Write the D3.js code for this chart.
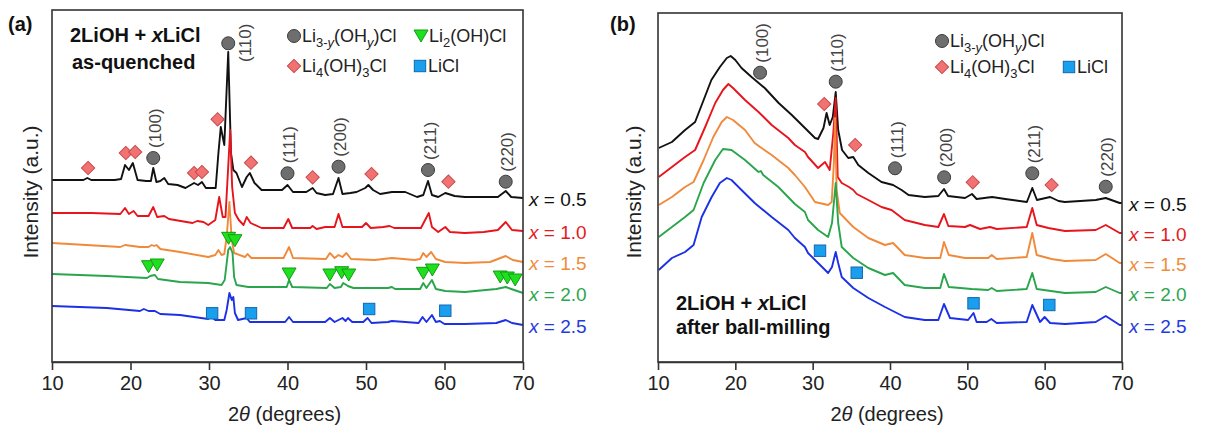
<!DOCTYPE html>
<html><head><meta charset="utf-8">
<script src="https://cdn.jsdelivr.net/npm/d3@7/dist/d3.min.js"></script>
<style>
body{margin:0;background:#fff}
svg{display:block}
text{font-family:"Liberation Sans",Arial,Helvetica,sans-serif}
</style>
</head><body>
<svg id="chart" width="1206" height="426"></svg>
<script>
// ---------- DATA ----------
const thetaTicks = [10, 20, 30, 40, 50, 60, 70];
const seriesNames = ["0.5", "1.0", "1.5", "2.0", "2.5"];

// Panel (a): as-quenched, [2theta, intensity (a.u., offset stacked)]
const aX05 = [[10,182],[12,182],[14,182],[14.5,184],[15,182],[18,182],[18.8,183],[19.3,197],[19.8,192],[20.3,199],[20.9,182],[22,181],[22.6,181],[22.9,194],[23.3,180],[23.8,181],[24.3,184],[24.8,178],[26,177],[27,174],[28.1,179],[28.6,177],[29.1,180],[29.6,174],[30.85,174],[31.2,209],[31.5,235],[31.95,217],[32.45,310],[32.8,209],[33.1,192],[33.5,189],[34.2,175],[34.8,185],[35.2,189],[35.8,179],[36.7,172],[39.3,172],[40.0,177],[40.7,170],[42.4,170],[43.2,174],[43.7,169],[44.8,167],[45.8,168],[46.5,184],[47.0,168],[48.0,169],[48.8,170],[49.9,174],[50.3,177],[50.9,172],[51.8,168],[53.3,170],[55.0,170],[56.5,165],[57.3,167],[57.9,181],[58.4,167],[59.2,165],[60.1,169],[61.3,166],[62.6,165],[65.0,165],[66.8,165],[67.8,171],[68.5,165],[70,164]];
const aX10 = [[10,149],[15,149],[18.7,148],[19.3,154],[19.8,148],[20.4,151],[20.9,146],[22.3,146],[22.9,155],[23.4,145],[24.3,146],[24.9,143],[27.9,139],[28.5,141],[29.3,140],[29.9,137],[30.8,142],[31.3,165],[31.75,145],[32.1,145],[32.7,232],[32.95,175],[33.3,149],[33.8,142],[34.4,137],[34.8,145],[35.3,139],[36.7,134],[39.5,134],[40.1,143],[40.6,134],[42.9,134],[43.2,136],[43.7,133],[44.8,135],[46.0,135],[46.5,148],[47.0,135],[49.5,135],[50.0,139],[50.6,134],[52.2,135],[53.0,136],[53.6,134],[57.0,134],[58.0,149],[58.4,135],[59.2,130],[60.1,135],[60.7,130],[62.6,129],[65.0,130],[66.8,132],[67.8,140],[68.6,132],[70,131]];
const aX15 = [[10,119],[18.7,115],[19.3,117],[21.2,115],[22.3,115],[22.7,117],[23.0,116],[23.3,117],[23.8,113],[26.3,110],[29.9,105],[30.8,107],[31.2,112],[31.6,107],[31.95,108],[32.25,125],[32.6,160],[32.9,122],[33.2,109],[34.6,105],[34.9,108],[35.4,104],[39.5,104],[40.2,115],[40.7,104],[44.9,103],[45.4,109],[46.0,104],[46.5,107],[47.0,105],[47.5,109],[48.1,103],[51.1,102],[53.3,104],[56.2,102],[56.9,103],[57.3,109],[57.7,105],[58.3,110],[58.9,103],[60.1,100],[62.6,99],[65.8,100],[67.8,106],[68.7,102],[70,100]];
const aX20 = [[10,88],[17.0,86],[22.1,84],[22.5,86],[23.1,87],[23.5,83],[26.3,80],[29.9,79],[31.6,77],[32.0,82],[32.45,112],[32.7,115],[33.0,109],[33.2,85],[33.5,77],[35.0,75],[39.9,75],[40.2,82],[40.6,75],[45.0,74],[45.4,78],[46.0,74],[46.8,75],[47.1,79],[47.7,76],[48.4,74],[52.8,74],[53.3,75],[53.7,73],[56.9,73],[57.3,79],[57.7,74],[58.4,82],[58.9,73],[60.1,71],[62.6,70],[66.6,73],[67.8,75],[68.5,73],[70,69]];
const aX25 = [[10,56],[17.0,54],[21.2,51],[21.7,53],[22.3,51],[23.1,51],[23.8,48],[26.3,47],[29.9,43],[30.3,45],[30.8,42],[31.95,42],[32.25,52],[32.6,69],[32.9,62],[33.1,65],[33.3,49],[33.7,42],[34.8,44],[35.2,40],[39.7,40],[40.2,45],[40.7,40],[44.8,40],[45.4,44],[46.0,40],[47.0,44],[47.4,41],[47.7,44],[48.25,40],[49.65,40],[50.2,44],[50.7,39],[52.8,40],[53.3,41],[56.7,39],[57.2,45],[57.7,40],[58.4,47],[58.9,40],[59.4,41],[60.0,38],[62.6,38],[66.6,39],[67.8,42],[68.6,39],[70,37]];

// Panel (b): after ball-milling
const bX05 = [[10.1,214],[11.8,220],[13.5,232],[14.8,240],[15.9,262],[16.9,282],[18.0,295],[18.9,304],[19.4,306],[20.0,302],[20.8,294],[22.1,285],[23.8,274],[25.6,259],[27.3,247],[29.0,234],[30.3,224],[30.7,223],[31.4,234],[31.8,249],[32.2,237],[32.6,245],[32.98,270],[33.3,232],[33.8,212],[34.6,204],[35.25,205],[35.9,197],[37.2,189],[38.9,180],[40.4,177],[41.5,172],[42.4,167],[44.5,165],[46.25,166],[46.98,173],[47.5,166],[49.7,164],[50.6,168],[51.2,163],[53.2,165],[54.9,163],[57.7,160],[58.4,174],[59.0,162],[60.7,165],[61.8,161],[62.6,160],[66.6,162],[67.9,164],[69.7,159],[70,159]];
const bX10 = [[10.1,185],[11.8,195],[13.5,205],[14.8,212],[16.1,235],[17.4,259],[18.4,272],[19.1,278],[19.7,274],[21.25,262],[23.0,250],[24.7,237],[26.85,224],[27.7,217],[29.0,210],[29.4,205],[30.7,194],[31.6,200],[32.2,192],[32.67,229],[32.98,264],[33.24,185],[33.76,179],[34.7,175],[35.25,172],[35.7,168],[37.2,162],[38.9,155],[40.2,152],[41.9,142],[44.5,137],[46.25,135],[46.98,148],[47.54,136],[49.7,135],[50.35,137],[51.64,133],[52.93,135],[53.8,133],[57.68,135],[58.4,154],[58.97,137],[60.47,134],[62.63,131],[66.6,132],[67.9,137],[69.7,129],[70,129]];
const bX15 = [[10.1,157],[11.8,165],[13.5,175],[14.6,180],[15.9,202],[17.15,225],[18.24,240],[18.9,245],[19.7,242],[21.25,232],[22.5,219],[23.2,215],[24.7,207],[26.85,194],[27.7,187],[29.0,175],[30.3,160],[32.0,157],[32.46,160],[32.75,200],[32.9,244],[33.1,172],[33.5,149],[35.25,135],[37.2,124],[39.35,117],[40.4,119],[41.9,107],[44.5,104],[46.5,104],[46.98,120],[47.6,107],[49.7,104],[52.7,104],[53.15,107],[53.8,103],[57.68,105],[58.4,129],[58.97,107],[60.9,103],[62.63,101],[66.6,102],[67.9,108],[69.7,99],[70,99]];
const bX20 = [[10.1,125],[11.8,135],[13.5,145],[14.6,152],[15.9,179],[17.4,202],[18.4,213],[19.5,212],[21.25,202],[23.0,190],[23.3,191],[23.6,187],[25.56,175],[27.7,158],[29.0,150],[29.4,142],[30.7,132],[32.0,125],[32.5,139],[32.98,179],[33.3,139],[33.76,115],[35.25,104],[37.2,94],[39.35,87],[40.4,89],[41.9,77],[44.5,74],[46.5,74],[46.98,88],[47.6,75],[50.57,73],[52.7,72],[53.15,74],[53.8,71],[57.68,73],[58.4,89],[58.97,73],[62.63,69],[66.6,70],[67.9,75],[69.7,69],[70,69]];
const bX25 = [[10.1,92],[11.8,104],[13.5,110],[14.6,117],[15.65,145],[16.94,165],[18.0,179],[18.9,184],[19.5,182],[20.8,172],[22.5,159],[24.7,145],[26.85,132],[27.7,124],[29.0,115],[29.4,109],[30.7,99],[32.0,89],[32.5,95],[32.98,110],[33.3,99],[33.76,85],[35.25,74],[37.2,64],[39.35,55],[41.9,45],[44.5,42],[46.25,42],[46.98,58],[47.76,44],[50.1,42],[50.8,49],[51.2,40],[52.5,40],[53.1,43],[53.8,39],[57.68,40],[58.4,57],[59.4,40],[60.0,45],[60.7,39],[62.63,38],[66.6,40],[67.9,46],[69.7,37],[70,37]];

// Phase markers [2theta, intensity, label]
const aCircles = [[22.9,204,"(100)"],[32.45,318.7,"(110)"],[40.0,188.7,"(111)"],[46.5,195.3,"(200)"],[57.9,192,"(211)"],[67.8,180.3,"(220)"]];
const aDiamonds = [[14.6,194],[19.4,209],[20.6,210],[28.1,189],[29.1,190],[31.1,242.7],[35.35,199.3],[43.2,184.7],[50.7,188],[60.5,180.3]];
const aTriangles = [[22.3,95.3],[23.4,97],[32.5,123.7],[33.3,121.3],[40.2,88],[45.4,87],[46.9,89.3],[47.8,87],[57.3,88.7],[58.45,92],[67.1,85],[68.0,84],[69.0,82]];
const aSquares = [[30.4,48.7],[35.35,48.7],[50.4,53],[60.1,51.3]];

const bCircles = [[23.2,289.3,"(100)"],[32.98,280.3,"(110)"],[40.65,193.7,"(111)"],[47.0,184.7,"(200)"],[58.4,188.7,"(211)"],[67.9,175.3,"(220)"]];
const bDiamonds = [[31.5,258],[35.5,217],[50.7,179.7],[60.9,177]];
const bSquares = [[30.95,111.3],[35.7,89.3],[50.8,58.7],[60.6,57]];

// ---------- STYLE ----------
const traceColors = ["#111111", "#e8141c", "#f08a3a", "#2aa54c", "#1c30e6"];
const labelColors = ["#111111", "#e41a1c", "#f08c3a", "#2ea64f", "#1f3be0"];
const mk = {
  circle: {fill: "#6e6e6e", stroke: "#3c3c3c"},
  diamond: {fill: "#f07272", stroke: "#c94a4a"},
  triangle: {fill: "#1ee01e", stroke: "#139a13"},
  square: {fill: "#1a9fef", stroke: "#1068b0"}
};

const svg = d3.select("#chart");

function richText(g, x, y, parts, size, opts = {}) {
  const t = g.append("text").attr("x", x).attr("y", y)
    .attr("font-size", size).attr("fill", opts.fill || "#111")
    .attr("font-weight", opts.bold ? "bold" : null);
  let shifted = 0;
  parts.forEach(([s, kind]) => {
    const sp = t.append("tspan").text(s);
    const isSub = kind === "s" || kind === "si";
    const target = isSub ? size * 0.3 : 0;
    if (target !== shifted) { sp.attr("dy", target - shifted); shifted = target; }
    if (isSub) sp.attr("font-size", size * 0.72);
    if (kind === "i" || kind === "si") sp.attr("font-style", "italic");
  });
  return t;
}

function drawMarker(g, type, cx, cy) {
  const s = mk[type];
  if (type === "circle") {
    g.append("circle").attr("cx", cx).attr("cy", cy).attr("r", 6.5)
      .attr("fill", s.fill).attr("stroke", s.stroke).attr("stroke-width", 1);
  } else if (type === "diamond") {
    const path = d3.symbol().type(d3.symbolSquare).size(88)();
    g.append("path").attr("d", path).attr("transform", `translate(${cx},${cy}) rotate(45)`)
      .attr("fill", s.fill).attr("stroke", s.stroke).attr("stroke-width", 1);
  } else if (type === "triangle") {
    const w = 7, h = 12;
    g.append("path").attr("d", `M${-w},${-h/2}L${w},${-h/2}L0,${h/2}Z`)
      .attr("transform", `translate(${cx},${cy})`)
      .attr("fill", s.fill).attr("stroke", s.stroke).attr("stroke-width", 1).attr("stroke-linejoin", "round");
  } else if (type === "square") {
    g.append("rect").attr("x", cx - 5.7).attr("y", cy - 5.7).attr("width", 11.4).attr("height", 11.4)
      .attr("fill", s.fill).attr("stroke", s.stroke).attr("stroke-width", 1);
  }
}

const panels = [
  {tag: "(a)", tagX: 8, x0: 52, x1: 523, yb: 362, yt: 10, vmax: 352,
   traces: [aX05, aX10, aX15, aX20, aX25],
   circles: aCircles, diamonds: aDiamonds, triangles: aTriangles, squares: aSquares,
   labelShift: {"(110)": [34.7, 300]},
   seriesX: 529, ylabX: 30,
   title: [[70, 42, [["2LiOH + ", "n"], ["x", "i"], ["LiCl", "n"]]], [72, 69, [["as-quenched", "n"]]]],
   legend: [
     ["circle", 294, 36, [["Li", "n"], ["3-", "s"], ["y", "si"], ["(OH", "n"], ["y", "si"], [")Cl", "n"]]],
     ["triangle", 421, 36, [["Li", "n"], ["2", "s"], ["(OH)Cl", "n"]]],
     ["diamond", 294, 66, [["Li", "n"], ["4", "s"], ["(OH)", "n"], ["3", "s"], ["Cl", "n"]]],
     ["square", 420, 66, [["LiCl", "n"]]]
   ]},
  {tag: "(b)", tagX: 610, x0: 658, x1: 1122, yb: 362, yt: 13, vmax: 349,
   traces: [bX05, bX10, bX15, bX20, bX25],
   circles: bCircles, diamonds: bDiamonds, triangles: [], squares: bSquares,
   labelShift: {},
   seriesX: 1129, ylabX: 633,
   title: [[676, 310, [["2LiOH + ", "n"], ["x", "i"], ["LiCl", "n"]]], [676, 334, [["after ball-milling", "n"]]]],
   legend: [
     ["circle", 942, 41, [["Li", "n"], ["3-", "s"], ["y", "si"], ["(OH", "n"], ["y", "si"], [")Cl", "n"]]],
     ["diamond", 942, 67, [["Li", "n"], ["4", "s"], ["(OH)", "n"], ["3", "s"], ["Cl", "n"]]],
     ["square", 1069, 67, [["LiCl", "n"]]]
   ]}
];

panels.forEach(p => {
  const g = svg.append("g");
  const x = d3.scaleLinear().domain([10, 70]).range([p.x0, p.x1]);
  const y = d3.scaleLinear().domain([0, p.vmax]).range([p.yb, p.yt]);

  // traces
  const line = d3.line().x(d => x(d[0])).y(d => y(d[1]));
  p.traces.forEach((tr, i) => {
    g.append("path").datum(tr).attr("d", line).attr("fill", "none")
      .attr("stroke", traceColors[i]).attr("stroke-width", 1.9).attr("stroke-linejoin", "round");
  });

  // frame
  g.append("rect").attr("x", p.x0).attr("y", p.yt).attr("width", p.x1 - p.x0).attr("height", p.yb - p.yt)
    .attr("fill", "none").attr("stroke", "#333").attr("stroke-width", 1.6);

  // x axis
  const ax = g.append("g").attr("transform", `translate(0,${p.yb})`)
    .call(d3.axisBottom(x).tickValues(thetaTicks).tickSize(8).tickSizeOuter(0).tickPadding(6));
  ax.select(".domain").attr("stroke", "#333").attr("stroke-width", 1.6);
  ax.selectAll(".tick line").attr("stroke", "#333").attr("stroke-width", 1.6);
  ax.selectAll(".tick text").attr("font-size", 20).attr("fill", "#222")
    .attr("font-family", '"Liberation Sans",Arial,sans-serif');

  // axis titles
  const cxp = (p.x0 + p.x1) / 2 - 3;
  richText(g, cxp, 421, [["2", "n"], ["θ", "i"], [" (degrees)", "n"]], 20, {fill: "#222"})
    .attr("text-anchor", "middle");
  g.append("text").attr("transform", `translate(${p.ylabX},192) rotate(-90)`)
    .attr("text-anchor", "middle").attr("dominant-baseline", "central")
    .attr("font-size", 21).attr("fill", "#222").text("Intensity (a.u.)");

  // panel tag
  g.append("text").attr("x", p.tagX).attr("y", 31).attr("font-size", 20).attr("font-weight", "bold")
    .attr("fill", "#111").text(p.tag);

  // series labels
  p.traces.forEach((tr, i) => {
    const last = tr[tr.length - 1];
    richText(g, p.seriesX, y(last[1]) + 8, [["x", "i"], [" = " + seriesNames[i], "n"]], 19, {fill: labelColors[i]});
  });

  // markers
  p.diamonds.forEach(d => drawMarker(g, "diamond", x(d[0]), y(d[1])));
  p.triangles.forEach(d => drawMarker(g, "triangle", x(d[0]), y(d[1])));
  p.squares.forEach(d => drawMarker(g, "square", x(d[0]), y(d[1])));
  p.circles.forEach(d => {
    drawMarker(g, "circle", x(d[0]), y(d[1]));
    let lx = x(d[0]) + 2, ly = y(d[1]) - 10;
    if (p.labelShift[d[2]]) { lx = x(p.labelShift[d[2]][0]); ly = y(p.labelShift[d[2]][1]); }
    g.append("text").attr("transform", `translate(${lx},${ly}) rotate(-90)`)
      .attr("dominant-baseline", "central").attr("font-size", 17).attr("fill", "#444").text(d[2]);
  });

  // title texts
  p.title.forEach(([tx, ty, parts]) => richText(g, tx, ty, parts, 20, {bold: true, fill: "#111"}));

  // legend
  p.legend.forEach(([type, lx, ly, parts]) => {
    drawMarker(g, type, lx, ly);
    richText(g, lx + 8, ly + 6, parts, 18, {fill: "#222"});
  });
});
</script>
</body></html>
